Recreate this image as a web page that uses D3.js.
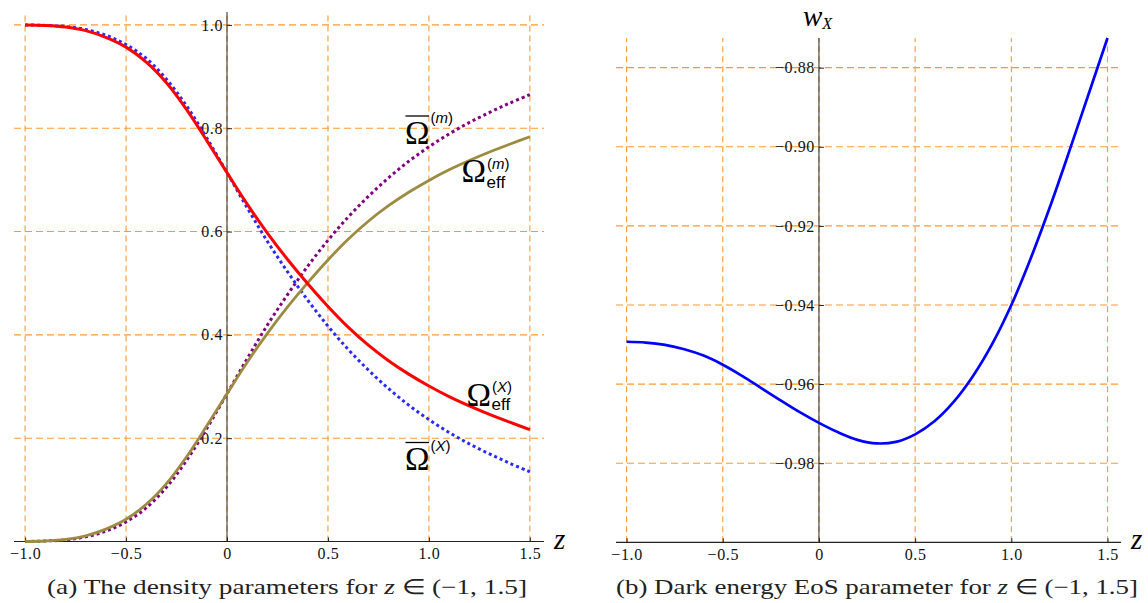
<!DOCTYPE html>
<html>
<head>
<meta charset="utf-8">
<script src="https://cdn.jsdelivr.net/npm/d3@7"></script>
<style>
  body { margin: 0; background: #fff; }
  svg { display: block; }
</style>
</head>
<body>
<svg width="1148" height="603"></svg>
<script>
// redshift samples (both panels)
var zValues = [-1.0, -0.9, -0.8, -0.7, -0.6, -0.5, -0.4, -0.3, -0.2, -0.1, 0.0,
  0.1, 0.2, 0.3, 0.4, 0.5, 0.6, 0.7, 0.8, 0.9, 1.0, 1.1, 1.2, 1.3, 1.4, 1.5]

// panel (a): density parameters
var omegaEffX = [1.000, 0.999, 0.996, 0.989, 0.976, 0.957, 0.928, 0.888, 0.836, 0.776, 0.714,
  0.653, 0.597, 0.546, 0.499, 0.455, 0.415, 0.380, 0.350, 0.324, 0.301, 0.2805, 0.2625, 0.246, 0.231, 0.2165]
var omegaBarX = [1.000, 0.999, 0.997, 0.991, 0.980, 0.962, 0.935, 0.895, 0.843, 0.781, 0.714,
  0.646, 0.581, 0.522, 0.467, 0.417, 0.372, 0.332, 0.296, 0.264, 0.236, 0.211, 0.189, 0.1695, 0.1515, 0.135]
var omegaEffM = [0.000, 0.001, 0.004, 0.011, 0.024, 0.043, 0.072, 0.112, 0.164, 0.224, 0.286,
  0.347, 0.403, 0.454, 0.501, 0.545, 0.585, 0.620, 0.650, 0.676, 0.699, 0.7195, 0.7375, 0.754, 0.769, 0.7835]
var omegaBarM = [0.000, 0.001, 0.003, 0.009, 0.020, 0.038, 0.065, 0.105, 0.157, 0.219, 0.286,
  0.354, 0.419, 0.478, 0.533, 0.583, 0.628, 0.668, 0.704, 0.736, 0.764, 0.789, 0.811, 0.8305, 0.8485, 0.865]

// panel (b): dark energy EoS
var wX = [-0.9493, -0.9495, -0.9501, -0.9512, -0.9528, -0.9551, -0.9579, -0.9610, -0.9641, -0.9671, -0.9698,
  -0.9722, -0.9741, -0.9750, -0.9746, -0.9727, -0.9694, -0.9645, -0.9580, -0.9499, -0.9400,
  -0.9283, -0.9153, -0.9013, -0.8869, -0.8725]

// ticks
var xTicks = [-1, -0.5, 0, 0.5, 1, 1.5]
var xTickLabels = ['\u22121.0', '\u22120.5', '0', '0.5', '1.0', '1.5']
var yTicksA = [0.2, 0.4, 0.6, 0.8, 1.0]
var yTickLabelsA = ['0.2', '0.4', '0.6', '0.8', '1.0']
var yTicksB = [-0.98, -0.96, -0.94, -0.92, -0.90, -0.88]
var yTickLabelsB = ['\u22120.98', '\u22120.96', '\u22120.94', '\u22120.92', '\u22120.90', '\u22120.88']

var svg = d3.select('svg')
var gridColor = '#ff9a30'
var serif = '"Liberation Serif", "Times New Roman", serif'
var sans = '"Liberation Sans", Arial, sans-serif'

function styleTicks(a) {
  a.select('.domain').remove()
  a.attr('color', '#222')
  a.selectAll('text')
    .style('font-family', serif)
    .style('font-size', '16px')
    .style('letter-spacing', '0.6px')
    .attr('fill', '#111')
}

function drawPanel(p) {
  var x = d3.scaleLinear().domain(p.xDomain).range(p.xRange)
  var y = d3.scaleLinear().domain(p.yDomain).range(p.yRange)
  var g = svg.append('g')
  var y0 = p.yRange[0]

  // dashed grid
  g.selectAll('line.vgrid').data(xTicks).enter().append('line')
    .attr('class', 'vgrid')
    .attr('x1', function(d) { return x(d) })
    .attr('x2', function(d) { return x(d) })
    .attr('y1', p.yRange[0])
    .attr('y2', p.yRange[1])
    .attr('stroke', gridColor)
    .attr('stroke-width', 1.1)
    .attr('stroke-dasharray', '6,4')
  g.selectAll('line.hgrid').data(p.yTicks).enter().append('line')
    .attr('class', 'hgrid')
    .attr('x1', p.xRange[0])
    .attr('x2', p.xRange[1])
    .attr('y1', function(d) { return y(d) })
    .attr('y2', function(d) { return y(d) })
    .attr('stroke', gridColor)
    .attr('stroke-width', 1.1)
    .attr('stroke-dasharray', '7,4')

  // axis lines
  g.append('line')
    .attr('x1', p.xRange[0]).attr('x2', p.xRange[1])
    .attr('y1', y0).attr('y2', y0)
    .attr('stroke', '#222').attr('stroke-width', 1.2)
  g.append('line')
    .attr('x1', x(0)).attr('x2', x(0))
    .attr('y1', p.yRange[0]).attr('y2', p.yRange[1])
    .attr('stroke', '#333').attr('stroke-width', 1.3).attr('stroke-opacity', 0.8)

  // ticks and labels
  var xAxis = d3.axisBottom(x)
    .tickValues(xTicks)
    .tickSize(-4)
    .tickPadding(6)
    .tickFormat(function(d, i) { return xTickLabels[i] })
  g.append('g')
    .attr('transform', 'translate(0,' + y0 + ')')
    .call(xAxis)
    .call(styleTicks)

  var yAxis = d3.axisLeft(y)
    .tickValues(p.yTicks)
    .tickSize(-5)
    .tickPadding(4)
    .tickFormat(function(d, i) { return p.yTickLabels[i] })
  g.append('g')
    .attr('transform', 'translate(' + x(0) + ',0)')
    .call(yAxis)
    .call(styleTicks)

  // curves
  var line = d3.line()
    .x(function(d, i) { return x(zValues[i]) })
    .y(function(d) { return y(d) })
    .curve(d3.curveCatmullRom.alpha(0.5))
  p.series.forEach(function(s) {
    g.append('path')
      .attr('d', line(s.values))
      .attr('fill', 'none')
      .attr('stroke', s.color)
      .attr('stroke-width', s.width)
      .attr('stroke-dasharray', s.dash || null)
  })

  // axis name
  g.append('text')
    .attr('x', p.xRange[1] + 10)
    .attr('y', y0 + 7)
    .attr('font-family', serif)
    .attr('font-style', 'italic')
    .attr('font-size', 29)
    .text('z')

  return {x: x, y: y, g: g}
}

var a = drawPanel({
  xDomain: [-1.055, 1.57], xRange: [14, 544],
  yDomain: [0, 1.025], yRange: [541.5, 12],
  yTicks: yTicksA, yTickLabels: yTickLabelsA,
  series: [
    {values: omegaBarM, color: '#800080', width: 3, dash: '3,3'},
    {values: omegaBarX, color: '#2a2aff', width: 3, dash: '3,3'},
    {values: omegaEffM, color: '#9c8c42', width: 2.8},
    {values: omegaEffX, color: '#ff0000', width: 3}
  ]
})

var b = drawPanel({
  xDomain: [-1.055, 1.57], xRange: [616, 1121],
  yDomain: [-1.0, -0.8725], yRange: [542.3, 38],
  yTicks: yTicksB, yTickLabels: yTickLabelsB,
  series: [
    {values: wX, color: '#0000ff', width: 2.7}
  ]
})

// curve labels in panel (a)
function omegaLabel(x0, base, bar, sub, sup, supBase, subBase) {
  var t = svg.append('text')
    .attr('x', x0).attr('y', base)
    .attr('font-family', serif)
    .attr('font-size', 33)
    .text('\u03A9')
  var w = t.node().getBBox().width
  if (bar) {
    svg.append('line')
      .attr('x1', x0 + 0.5).attr('x2', x0 + w - 0.5)
      .attr('y1', base - 27.5).attr('y2', base - 27.5)
      .attr('stroke', '#000').attr('stroke-width', 1.3)
  }
  if (sub) {
    svg.append('text')
      .attr('x', x0 + w + 0.5).attr('y', subBase)
      .attr('font-family', sans)
      .attr('font-size', 17)
      .text(sub)
  }
  var s = svg.append('text')
    .attr('x', x0 + w + 1).attr('y', supBase)
    .attr('font-family', sans)
    .attr('font-size', 15)
  s.append('tspan').text('(')
  s.append('tspan').attr('font-style', 'italic').text(sup)
  s.append('tspan').text(')')
}

omegaLabel(405, 143.5, true, null, 'm', 123)
omegaLabel(461.5, 182, false, 'eff', 'm', 168.5, 187.5)
omegaLabel(466.5, 405.5, false, 'eff', 'X', 391.5, 410)
omegaLabel(405, 470, true, null, 'X', 450.5)

// w_X axis label
var wl = svg.append('text')
  .attr('x', 803).attr('y', 25.5)
  .attr('font-family', serif)
  .attr('font-style', 'italic')
  .attr('font-size', 29)
wl.append('tspan').text('w')
wl.append('tspan').attr('font-size', 16).attr('dy', 3.5).text('X')

// captions
function caption(x0, width, letter, rest) {
  var t = svg.append('text')
    .attr('x', x0).attr('y', 594)
    .attr('font-family', serif)
    .attr('font-size', 21)
    .attr('fill', '#222')
    .attr('textLength', width)
    .attr('lengthAdjust', 'spacingAndGlyphs')
  t.append('tspan').text('(' + letter + ') ' + rest + ' for ')
  t.append('tspan').attr('font-style', 'italic').text('z')
  t.append('tspan').text(' \u2208 (\u22121, 1.5]')
}
caption(47, 480, 'a', 'The density parameters')
caption(616, 522, 'b', 'Dark energy EoS parameter')
</script>
</body>
</html>
